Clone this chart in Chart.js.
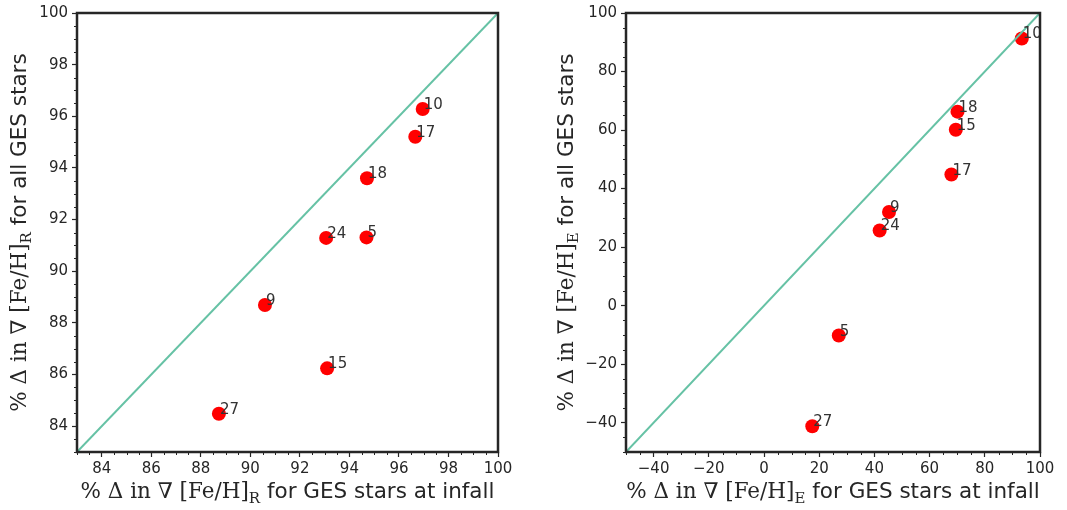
<!DOCTYPE html>
<html>
<head>
<meta charset="utf-8">
<script src="https://cdn.jsdelivr.net/npm/chart.js@4.4.0/dist/chart.umd.min.js"></script>
<style>
  body { margin: 0; background: #fff; }
  #wrap { position: relative; width: 1067px; height: 510px; }
  .pane { position: absolute; top: 0; height: 510px; }
</style>
</head>
<body>
<div id="wrap">
  <div class="pane" style="left:0;width:533px"><canvas id="resChart" width="533" height="510"></canvas></div>
  <div class="pane" style="left:533px;width:534px"><canvas id="extChart" width="534" height="510"></canvas></div>
</div>
<script>
// halo ids, same order in both panels
const haloIds = ['10', '17', '18', '24', '5', '9', '15', '27'];

// left panel: [Fe/H]_R gradient change
const resInfall = [96.96, 96.66, 94.71, 93.06, 94.69, 90.59, 93.10, 88.73];
const resAll    = [96.28, 95.21, 93.60, 91.29, 91.31, 88.69, 86.24, 84.48];
const resRange  = [83, 100];

// right panel: [Fe/H]_E gradient change
const extInfall = [93.4, 67.9, 70.1, 41.9, 27.1, 45.3, 69.5, 17.5];
const extAll    = [91.3, 44.8, 66.3, 25.7, -10.2, 32.0, 60.1, -41.2];
const extRange  = [-50, 100];

const ink = '#262626';
const pointRed = '#ff0000';
const lineTeal = '#66c2a5';
const serif = '"DejaVu Serif"';
const sans = '"DejaVu Sans"';

function titleParts(sub, tail) {
  return [
    { text: '% \u0394 in \u2207 [Fe/H]', font: '21.5px ' + serif, dy: 0 },
    { text: sub, font: '15px ' + serif, dy: 4.5 },
    { text: tail, font: '21.5px ' + sans, dy: 0 }
  ];
}

function drawParts(ctx, parts, cx, cy, rot) {
  ctx.save();
  ctx.translate(cx, cy);
  ctx.rotate(rot);
  let total = 0;
  parts.forEach(p => { ctx.font = p.font; p.w = ctx.measureText(p.text).width; total += p.w; });
  let x = -total / 2;
  ctx.fillStyle = ink;
  ctx.textBaseline = 'alphabetic';
  ctx.textAlign = 'left';
  parts.forEach(p => { ctx.font = p.font; ctx.fillText(p.text, x, p.dy); x += p.w; });
  ctx.restore();
}

const decorations = {
  id: 'decorations',
  afterDatasetsDraw(chart, args, opts) {
    const ctx = chart.ctx;
    const meta = chart.getDatasetMeta(1);
    ctx.save();
    ctx.font = '15px ' + sans;
    ctx.fillStyle = '#333333';
    ctx.textAlign = 'left';
    ctx.textBaseline = 'alphabetic';
    meta.data.forEach((pt, i) => {
      ctx.fillText(haloIds[i], pt.x + 1, pt.y);
    });
    ctx.restore();
  },
  afterDraw(chart, args, opts) {
    const { ctx, chartArea: a, scales } = chart;
    ctx.save();
    // minor ticks
    ctx.strokeStyle = ink;
    ctx.lineWidth = 1;
    ['x', 'y'].forEach(id => {
      const s = scales[id];
      const n = Math.round((s.max - s.min) / opts.minorStep);
      for (let i = 0; i <= n; i++) {
        const v = s.min + i * opts.minorStep;
        const r = v / opts.majorStep;
        if (Math.abs(r - Math.round(r)) < 1e-6) continue;
        const p = Math.round(s.getPixelForValue(v)) + 0.5;
        ctx.beginPath();
        if (id === 'x') { ctx.moveTo(p, a.bottom); ctx.lineTo(p, a.bottom + 3); }
        else { ctx.moveTo(a.left, p); ctx.lineTo(a.left - 3, p); }
        ctx.stroke();
      }
    });
    // frame
    ctx.lineWidth = 2.5;
    ctx.strokeRect(a.left, a.top, a.right - a.left, a.bottom - a.top);
    ctx.restore();
    // axis titles
    drawParts(ctx, opts.xTitle, (a.left + a.right) / 2, 498, 0);
    drawParts(ctx, opts.yTitle, opts.yTitleX, (a.top + a.bottom) / 2, -Math.PI / 2);
  }
};

function tickLabel(v) {
  return v < 0 ? '\u2212' + Math.abs(v) : String(v);
}

function makePanel(canvasId, xs, ys, range, step, minorStep, sub, yAxisWidth, rightPad, yTitleX) {
  const points = xs.map((x, i) => ({ x: x, y: ys[i] }));
  const axis = (isX) => ({
    type: 'linear',
    min: range[0],
    max: range[1],
    grid: { display: true, drawOnChartArea: false, drawTicks: true, tickLength: 5, tickColor: ink, tickWidth: 1.2 },
    border: { display: false },
    ticks: {
      stepSize: step,
      includeBounds: false,
      color: ink,
      font: { family: 'DejaVu Sans', size: 15 },
      padding: isX ? 3 : 4,
      maxRotation: 0,
      autoSkip: false,
      callback: tickLabel
    },
    afterFit(scale) {
      if (isX) scale.height = 58; else scale.width = yAxisWidth;
    }
  });
  return new Chart(document.getElementById(canvasId), {
    type: 'scatter',
    data: {
      datasets: [{
        type: 'line',
        data: [{ x: range[0], y: range[0] }, { x: range[1], y: range[1] }],
        borderColor: lineTeal,
        borderWidth: 2,
        pointRadius: 0,
        fill: false,
        tension: 0
      }, {
        data: points,
        backgroundColor: pointRed,
        borderColor: pointRed,
        pointRadius: 7,
        pointBorderWidth: 0
      }]
    },
    options: {
      responsive: false,
      animation: false,
      layout: { padding: { top: 11, right: rightPad, left: 0, bottom: 0 } },
      plugins: {
        legend: { display: false },
        tooltip: { enabled: false },
        decorations: {
          minorStep: minorStep,
          majorStep: step,
          xTitle: titleParts(sub, ' for GES stars at infall'),
          yTitle: titleParts(sub, ' for all GES stars'),
          yTitleX: yTitleX
        }
      },
      scales: { x: axis(true), y: axis(false) }
    },
    plugins: [decorations]
  });
}

makePanel('resChart', resInfall, resAll, resRange, 2, 0.5, 'R', 77, 35, 26);
makePanel('extChart', extInfall, extAll, extRange, 20, 5, 'E', 93, 27, 40);
</script>
</body>
</html>
